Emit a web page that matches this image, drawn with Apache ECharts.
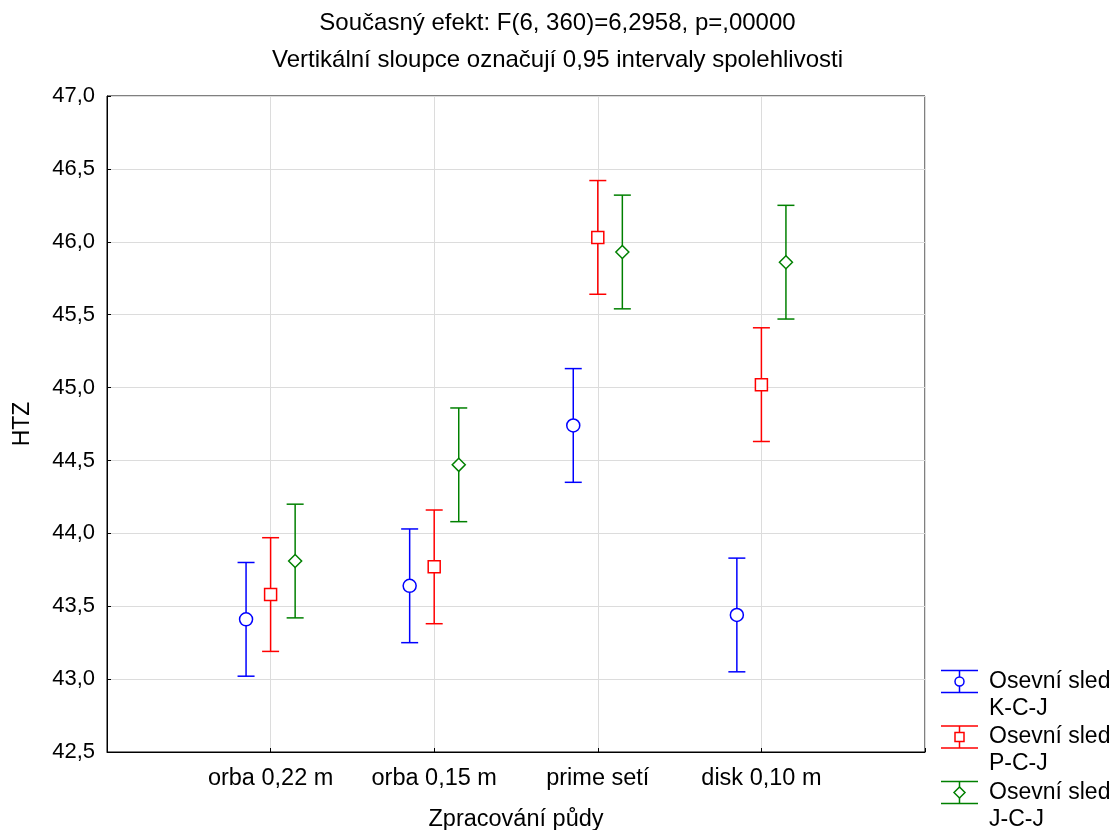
<!DOCTYPE html>
<html>
<head>
<meta charset="utf-8">
<script src="https://cdn.jsdelivr.net/npm/echarts@6/dist/echarts.min.js"></script>
<style>
html,body{margin:0;padding:0;background:#fff;}
#chart{width:1115px;height:830px;}
</style>
</head>
<body>
<div id="chart"></div>
<script>
// ---- data ----
const categories = ['orba 0,22 m', 'orba 0,15 m', 'prime setí', 'disk 0,10 m'];
const seriesNames = ['Osevní sled\nK-C-J', 'Osevní sled\nP-C-J', 'Osevní sled\nJ-C-J'];
const meanKCJ = [43.41, 43.64, 44.74, 43.44];
const meanPCJ = [43.58, 43.77, 46.03, 45.02];
const meanJCJ = [43.81, 44.47, 45.93, 45.86];
const ciKCJ = [0.39, 0.39, 0.39, 0.39];
const ciPCJ = [0.39, 0.39, 0.39, 0.39];
const ciJCJ = [0.39, 0.39, 0.39, 0.39];
const yTicks = [42.5, 43.0, 43.5, 44.0, 44.5, 45.0, 45.5, 46.0, 46.5, 47.0];
const titleLine1 = 'Současný efekt: F(6, 360)=6,2958, p=,00000';
const titleLine2 = 'Vertikální sloupce označují 0,95 intervaly spolehlivosti';
const xAxisTitle = 'Zpracování půdy';
const yAxisTitle = 'HTZ';

// ---- styling ----
const FONT = "'Liberation Sans', Arial, sans-serif";
const colors = ['#0000ff', '#ff0000', '#008000'];
const symbols = ['circle', 'rect', 'diamond'];
const symbolSizes = [13, 12, [13, 13]];
const offsets = [-0.15, 0, 0.15];
const means = [meanKCJ, meanPCJ, meanJCJ];
const cis = [ciKCJ, ciPCJ, ciJCJ];

const chart = echarts.init(document.getElementById('chart'), null, {renderer: 'canvas'});

const series = [];
means.forEach((m, s) => {
  const data = m.map((v, i) => [i + 1 + offsets[s], v, v - cis[s][i], v + cis[s][i]]);
  series.push({
    type: 'custom',
    name: seriesNames[s],
    data: data,
    z: 2,
    renderItem: function (params, api) {
      const x = api.value(0);
      const lo = api.coord([x, api.value(2)]);
      const hi = api.coord([x, api.value(3)]);
      const w = 8.5;
      const st = {stroke: colors[s], lineWidth: 1.5};
      return {
        type: 'group',
        children: [
          {type: 'line', shape: {x1: lo[0], y1: lo[1], x2: hi[0], y2: hi[1]}, style: st},
          {type: 'line', shape: {x1: lo[0] - w, y1: lo[1], x2: lo[0] + w, y2: lo[1]}, style: st},
          {type: 'line', shape: {x1: hi[0] - w, y1: hi[1], x2: hi[0] + w, y2: hi[1]}, style: st}
        ]
      };
    }
  });
  series.push({
    type: 'scatter',
    name: seriesNames[s] + '_m',
    data: m.map((v, i) => [i + 1 + offsets[s], v]),
    symbol: symbols[s],
    symbolSize: symbolSizes[s],
    z: 3,
    itemStyle: {color: '#fff', borderColor: colors[s], borderWidth: 1.5, opacity: 1},
    emphasis: {disabled: true}
  });
});

// legend drawn as graphic
const graphic = [];
const legX0 = 941, legX1 = 978, legXm = 959.5, legTextX = 989;
seriesNames.forEach((name, s) => {
  const cy = 681.5 + s * 55.5;
  const st = {stroke: colors[s], lineWidth: 1.5};
  graphic.push({type: 'line', shape: {x1: legX0, y1: cy - 11, x2: legX1, y2: cy - 11}, style: st});
  graphic.push({type: 'line', shape: {x1: legX0, y1: cy + 11, x2: legX1, y2: cy + 11}, style: st});
  graphic.push({type: 'line', shape: {x1: legXm, y1: cy - 11, x2: legXm, y2: cy + 11}, style: st});
  let mk;
  if (s === 0) mk = {type: 'circle', shape: {cx: legXm, cy: cy, r: 4.5}};
  else if (s === 1) mk = {type: 'rect', shape: {x: legXm - 4.5, y: cy - 4.5, width: 9, height: 9}};
  else mk = {type: 'polygon', shape: {points: [[legXm, cy - 5.5], [legXm + 5.5, cy], [legXm, cy + 5.5], [legXm - 5.5, cy]]}};
  mk.style = {fill: '#fff', stroke: colors[s], lineWidth: 1.5};
  graphic.push(mk);
  const lines = name.split('\n');
  lines.forEach((t, k) => {
    graphic.push({type: 'text', x: legTextX, y: cy + k * 27,
      style: {text: t, font: '23px ' + FONT, fill: '#000', textVerticalAlign: 'middle', textAlign: 'left'}});
  });
});

const option = {
  backgroundColor: '#fff',
  animation: false,
  title: [
    {text: titleLine1, left: 'center', top: 6, textStyle: {fontFamily: FONT, fontSize: 24, fontWeight: 'normal', color: '#000'}},
    {text: titleLine2, left: 'center', top: 43, textStyle: {fontFamily: FONT, fontSize: 24, fontWeight: 'normal', color: '#000'}}
  ],
  grid: {left: 107, right: 190, top: 96, bottom: 78, show: true, borderColor: '#000', borderWidth: 1,
         backgroundColor: 'transparent', containLabel: false, outerBoundsMode: 'none'},
  xAxis: {
    type: 'value', min: 0, max: categories.length + 1, interval: 1,
    name: xAxisTitle, nameLocation: 'middle', nameGap: 56,
    nameTextStyle: {fontFamily: FONT, fontSize: 23.5, color: '#000'},
    axisLine: {show: true, lineStyle: {color: '#000', width: 1}},
    axisTick: {show: true, inside: true, length: 4, lineStyle: {color: '#000'}},
    splitLine: {show: true, lineStyle: {color: '#dcdcdc', width: 1}},
    axisLabel: {
      margin: 15, fontFamily: FONT, fontSize: 23.5, color: '#000',
      formatter: function (v) { return (v >= 1 && v <= categories.length) ? categories[v - 1] : ''; }
    }
  },
  yAxis: {
    type: 'value', min: yTicks[0], max: yTicks[yTicks.length - 1], interval: 0.5,
    name: yAxisTitle, nameLocation: 'middle', nameGap: 73, nameRotate: 90,
    nameTextStyle: {fontFamily: FONT, fontSize: 23, color: '#000'},
    axisLine: {show: true, lineStyle: {color: '#000', width: 1}},
    axisTick: {show: true, inside: true, length: 4, lineStyle: {color: '#000'}},
    splitLine: {show: true, lineStyle: {color: '#dcdcdc', width: 1}},
    axisLabel: {
      margin: 12, fontFamily: FONT, fontSize: 22, color: '#000',
      formatter: function (v) { return v.toFixed(1).replace('.', ','); }
    }
  },
  graphic: graphic,
  series: series
};
chart.setOption(option);
</script>
</body>
</html>
